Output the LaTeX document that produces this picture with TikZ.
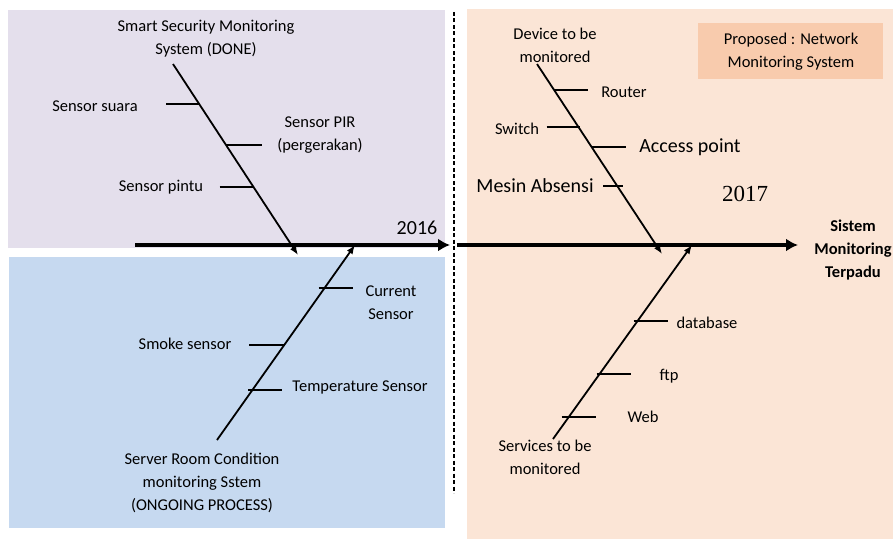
\documentclass[tikz,border=0pt]{standalone}
\usepackage{fontspec}
\setmainfont{Carlito}
\newfontfamily\yearfont{Liberation Serif}
\usetikzlibrary{%
    arrows.meta,
    calc,
    positioning
}
\definecolor{lilac}{HTML}{E4DFEC}
\definecolor{skyblue}{HTML}{C6D9F0}
\definecolor{peach}{HTML}{FBE5D6}
\definecolor{salmon}{HTML}{F8CBAD}
\tikzset{spine/.style = {line width=3.5pt,-{Latex[length=12pt,width=13pt]}}}
\tikzset{bone/.style = {line width=1.8pt,-{Latex[length=9pt,width=7pt]}}}
\tikzset{rib/.style = {line width=1.3pt}}
\tikzset{divider/.style = {line width=1.1pt,dash pattern=on 4pt off 2.5pt}}
\tikzset{lbl/.style = {font=\fontsize{16.5}{23}\selectfont, align=center, inner sep=0pt}}
\tikzset{biglbl/.style = {lbl, font=\fontsize{20}{24}\selectfont}}

\begin{document}
\begin{tikzpicture}[x=1pt, y=-1pt]
    \useasboundingbox (0,0) rectangle (893,540);

    % panels
    \fill[lilac]   (8,10)   rectangle (445,248);
    \fill[skyblue] (9,257)  rectangle (445,528);
    \fill[peach]   (467,9)  rectangle (893,539);
    \fill[salmon]  (698,23) rectangle (883,79);
    \draw[divider] (454,12) -- (454,493);

    % spine
    \coordinate (sa) at (135,245);
    \coordinate (sb) at (450,245);
    \coordinate (sc) at (457,245);
    \coordinate (sd) at (798,245);
    \draw[spine] (sa) -- (sb);
    \draw[spine] (sc) -- (sd);

    % bones
    \coordinate (tls) at (173,64);  \coordinate (tle) at (298,255);
    \coordinate (bls) at (217,440); \coordinate (ble) at (355,245);
    \coordinate (trs) at (537,64);  \coordinate (tre) at (662,254);
    \coordinate (brs) at (553,439); \coordinate (bre) at (692,245);
    \foreach \Bone in {tl, bl, tr, br}
        \draw[bone] (\Bone s) -- (\Bone e);

    % ribs
    \foreach \Bone/\Pos/\From/\To in {tl/0.209/-33/0, tl/0.424/0/36, tl/0.644/-34/0,
                                      bl/0.779/-6/28, bl/0.487/-35/0, bl/0.256/-4/30,
                                      tr/0.137/0/34, tr/0.332/-32/1, tr/0.437/0/34, tr/0.642/-14/6,
                                      br/0.608/-4/30, br/0.335/-3/31, br/0.113/-7/27}
        \draw[rib] ($(\Bone s)!\Pos!(\Bone e)+(\From,0)$) -- ($(\Bone s)!\Pos!(\Bone e)+(\To,0)$);

    % labels
    \node[lbl] (smart)   at (206,39)  {Smart Security Monitoring\\System (DONE)};
    \node[lbl] (suara)   at (95,106)  {Sensor suara};
    \node[lbl] (pir)     at (320,135) {Sensor PIR\\(pergerakan)};
    \node[lbl] (pintu)   at (161,187) {Sensor pintu};
    \node[biglbl] (y16)  at (417,228) {2016};
    \node[lbl] (current) at (391,303) {Current\\Sensor};
    \node[lbl] (smoke)   at (185,344) {Smoke sensor};
    \node[lbl] (temp)    at (360,387) {Temperature Sensor};
    \node[lbl] (server)  at (202,483) {Server Room Condition\\monitoring Sstem\\(ONGOING PROCESS)};

    \node[lbl] (device)  at (555,45)  {Device to be\\monitored};
    \node[lbl] (propose) at (791,52)  {Proposed : Network\\Monitoring System};
    \node[lbl] (router)  at (624,92)  {Router};
    \node[lbl] (switch)  at (517,129) {Switch};
    \node[biglbl] (ap)   at (690,147) {Access point};
    \node[biglbl] (mesin) at (535,186) {Mesin Absensi};
    \node[lbl, font=\yearfont\fontsize{23}{26}\selectfont] (y17) at (745,194) {2017};
    \node[lbl, font=\bfseries\fontsize{16.5}{23}\selectfont] (goal) at (853,250) {Sistem\\Monitoring\\Terpadu};
    \node[lbl] (db)      at (707,323) {database};
    \node[lbl] (ftp)     at (669,376) {ftp};
    \node[lbl] (web)     at (643,417) {Web};
    \node[lbl] (service) at (545,457) {Services to be\\monitored};
\end{tikzpicture}
\end{document}
